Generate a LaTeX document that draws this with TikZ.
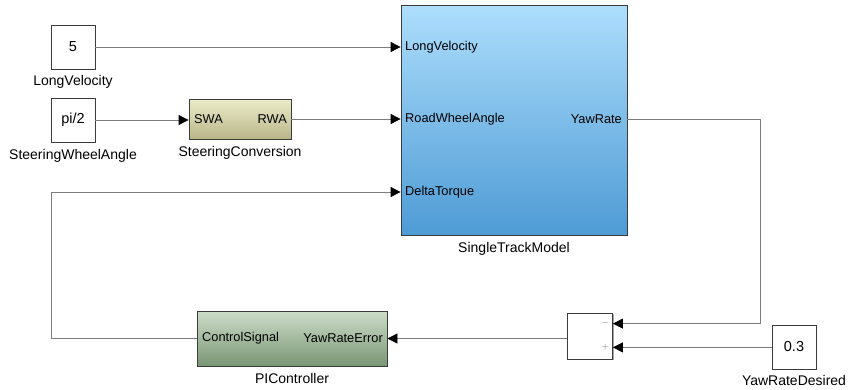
\documentclass[tikz,border=0pt]{standalone}
\usepackage{fontspec}
\setmainfont{Liberation Sans}
\usetikzlibrary{arrows.meta,positioning,shadows}
\definecolor{sline}{RGB}{125,125,125}
\definecolor{sedge}{RGB}{60,60,60}
\definecolor{stmtop}{RGB}{173,222,252}
\definecolor{stmbot}{RGB}{78,155,213}
\definecolor{convtop}{RGB}{236,236,202}
\definecolor{convbot}{RGB}{184,182,136}
\definecolor{pitop}{RGB}{205,221,201}
\definecolor{pibot}{RGB}{122,150,116}

\begin{document}
\begin{tikzpicture}[x=1pt,y=-1pt,
  blk/.style={draw=sedge,line width=0.8pt,inner sep=0pt,
    drop shadow={shadow xshift=1.3pt,shadow yshift=-1.3pt,fill=black,opacity=0.35}},
  const/.style={blk,fill=white,minimum width=44pt,minimum height=44pt,
    font=\fontsize{14.5}{16}\selectfont},
  port/.style={inner sep=0pt,font=\fontsize{12.8}{15}\selectfont},
  lbl/.style={inner sep=0pt,font=\fontsize{14}{16}\selectfont},
  sgn/.style={inner sep=0pt,text=black!60,font=\fontsize{9}{10}\selectfont},
  sig/.style={draw=sline,line width=0.8pt},
  arr/.style={sig,-{Triangle[length=10pt,width=10pt,black]}}]
  \useasboundingbox (0,0) rectangle (852,389);

  % sources
  \node[const] (vel) at (73,47) {5};
  \node[lbl,below=6pt of vel] {LongVelocity};
  \node[const] (swa) at (73,120) {pi/2};
  \node[lbl,below=7pt of swa] {SteeringWheelAngle};
  \node[const] (yrd) at (794,347) {0.3};
  \node[lbl,below=6pt of yrd] {YawRateDesired};

  % steering conversion
  \node[blk,top color=convtop,bottom color=convbot,minimum width=102pt,minimum height=40pt] (conv) at (240,119) {};
  \node[port,anchor=west] (conv-in) at (194,119) {SWA};
  \node[port,anchor=east] (conv-out) at (287,119) {RWA};
  \node[lbl,below=7pt of conv] {SteeringConversion};

  % vehicle model
  \node[blk,top color=stmtop,bottom color=stmbot,minimum width=226pt,minimum height=230pt] (stm) at (514,120) {};
  \node[port,anchor=west] (stm-lv) at (405,47) {LongVelocity};
  \node[port,anchor=west] (stm-rwa) at (405,119) {RoadWheelAngle};
  \node[port,anchor=west] (stm-dt) at (405,192) {DeltaTorque};
  \node[port,anchor=east] (stm-yr) at (622,119) {YawRate};
  \node[lbl,below=7pt of stm] {SingleTrackModel};

  % error sum
  \node[blk,fill=white,minimum width=45pt,minimum height=46pt] (sum) at (590,336) {};
  \coordinate (sum-m) at ([yshift=-11pt]sum.north east);
  \coordinate (sum-p) at ([yshift=12pt]sum.south east);
  \node[sgn,anchor=east] at ([xshift=-4pt]sum-m) {$-$};
  \node[sgn,anchor=east] at ([xshift=-4pt]sum-p) {$+$};

  % controller
  \node[blk,top color=pitop,bottom color=pibot,minimum width=190pt,minimum height=55pt] (pi) at (292,338.5) {};
  \node[port,anchor=west] (pi-out) at (202,338.5) {ControlSignal};
  \node[port,anchor=east] (pi-in) at (383,338.5) {YawRateError};
  \node[lbl,below=7pt of pi] {PIController};

  % signals
  \draw[arr] (vel.east) -- (vel -| stm.west);
  \draw[arr] (swa.east) -- (swa -| conv.west);
  \draw[arr] (conv.east) -- (conv -| stm.west);
  \draw[arr] (stm-yr -| stm.east) -- ++(133,0) |- (sum-m);
  \draw[arr] (yrd.west |- sum-p) -- (sum-p);
  \draw[arr] (sum.west |- pi) -- (pi.east);
  \draw[arr] (pi.west) -- ++(-145,0) |- (stm-dt -| stm.west);
\end{tikzpicture}
\end{document}
